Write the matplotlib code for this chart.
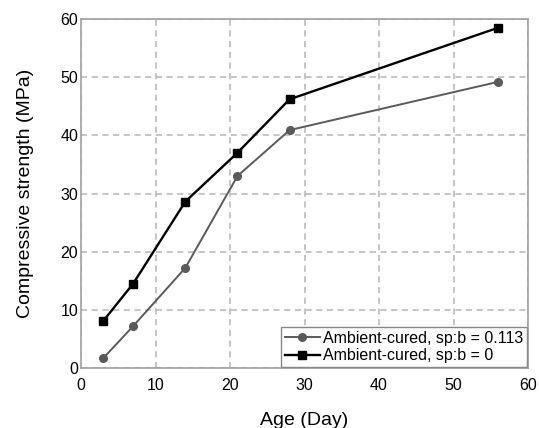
import matplotlib.pyplot as plt

plt.rcParams['font.family'] = ['Liberation Sans', 'DejaVu Sans']

age = [3, 7, 14, 21, 28, 56]
strength_0113 = [1.7, 7.2, 17.2, 33.0, 40.9, 49.2]
strength_0 = [8.1, 14.5, 28.6, 37.0, 46.2, 58.5]

fig = plt.figure(figsize=(5.39, 4.28), dpi=100)
ax = fig.add_axes([81 / 539, 60 / 428, 447 / 539, 349 / 428])

ax.plot(age, strength_0113, color='#5a5a5a', lw=1.4, marker='o', ms=5.5,
        label='Ambient-cured, sp:b = 0.113', zorder=3)
ax.plot(age, strength_0, color='black', lw=1.7, marker='s', ms=5.5,
        label='Ambient-cured, sp:b = 0', zorder=3)

ax.set_xlim(0, 60)
ax.set_ylim(0, 60)
ax.set_xticks(range(0, 61, 10))
ax.set_yticks(range(0, 61, 10))
ax.grid(True, ls=(0, (4, 3)), color='#b5b5b5', lw=1.1)
for s in ax.spines.values():
    s.set_color('#a0a0a0')
    s.set_linewidth(1.2)
ax.tick_params(length=0, labelsize=11.5)
ax.tick_params(axis='x', pad=7)
ax.tick_params(axis='y', pad=2)

ax.set_xlabel('Age (Day)', fontsize=14, labelpad=14)
ax.set_ylabel('Compressive strength (MPa)', fontsize=14, labelpad=19)

leg = ax.legend(loc='lower right', fontsize=11.5, fancybox=False, framealpha=1,
                edgecolor='#888888', borderaxespad=0.05, handlelength=2.2,
                handletextpad=0.2, borderpad=0.25, labelspacing=0.15)
leg.get_frame().set_linewidth(1)

fig.savefig('out.png', dpi=100)
